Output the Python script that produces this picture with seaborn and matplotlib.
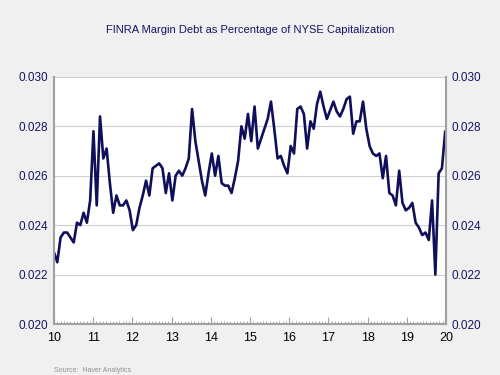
import numpy as np
import pandas as pd
import matplotlib
matplotlib.use("Agg")
import matplotlib.pyplot as plt
import seaborn as sns
from matplotlib.ticker import MultipleLocator

sns.set_style("white")
plt.rcParams['font.family'] = ['Liberation Sans', 'DejaVu Sans']

title = "FINRA Margin Debt as Percentage of NYSE Capitalization"
source = "Source:  Haver Analytics"

v2010 = [0.0229, 0.0225, 0.0235, 0.0237, 0.0237, 0.0235, 0.0233, 0.0241, 0.0240, 0.0245, 0.0241, 0.0250]
v2011 = [0.0278, 0.0248, 0.0284, 0.0267, 0.0271, 0.0257, 0.0245, 0.0252, 0.0248, 0.0248, 0.0250, 0.0246]
v2012 = [0.0238, 0.0240, 0.0247, 0.0252, 0.0258, 0.0252, 0.0263, 0.0264, 0.0265, 0.0263, 0.0253, 0.0261]
v2013 = [0.0250, 0.0260, 0.0262, 0.0260, 0.0263, 0.0267, 0.0287, 0.0274, 0.0266, 0.0258, 0.0252, 0.0261]
v2014 = [0.0269, 0.0260, 0.0268, 0.0257, 0.0256, 0.0256, 0.0253, 0.0259, 0.0266, 0.0280, 0.0275, 0.0285]
v2015 = [0.0274, 0.0288, 0.0271, 0.0275, 0.0279, 0.0283, 0.0290, 0.0279, 0.0267, 0.0268, 0.0264, 0.0261]
v2016 = [0.0272, 0.0269, 0.0287, 0.0288, 0.0285, 0.0271, 0.0282, 0.0279, 0.0289, 0.0294, 0.0288, 0.0283]
v2017 = [0.02865, 0.0290, 0.0286, 0.0284, 0.0287, 0.0291, 0.0292, 0.0277, 0.0282, 0.0282, 0.0290, 0.0279]
v2018 = [0.0272, 0.0269, 0.0268, 0.0269, 0.0259, 0.0268, 0.0253, 0.0252, 0.0248, 0.0262, 0.0249, 0.0246]
v2019 = [0.0247, 0.0249, 0.0241, 0.0239, 0.0236, 0.0237, 0.0234, 0.0250, 0.0220, 0.0261, 0.0263, 0.0278]

values = v2010 + v2011 + v2012 + v2013 + v2014 + v2015 + v2016 + v2017 + v2018 + v2019
dates = np.linspace(2010.0, 2019.98, len(values))
year_ticks = [2010, 2011, 2012, 2013, 2014, 2015, 2016, 2017, 2018, 2019, 2020]
year_labels = ["10", "11", "12", "13", "14", "15", "16", "17", "18", "19", "20"]
y_ticks = [0.020, 0.022, 0.024, 0.026, 0.028, 0.030]

df = pd.DataFrame({"date": dates, "value": values})

navy = "#141466"
bg = "#F0F0F0"

fig = plt.figure(figsize=(5, 3.75), dpi=100, facecolor=bg)
ax = fig.add_axes([0.108, 0.136, 0.784, 0.659])
ax.set_facecolor("white")

sns.lineplot(data=df, x="date", y="value", ax=ax, color="#0F0F5A", linewidth=1.9)

ax.set_xlim(2010, 2020)
ax.set_ylim(0.020, 0.030)
ax.set_yticks(y_ticks)
ax.set_yticklabels([f"{t:.3f}" for t in y_ticks])
ax.yaxis.grid(True, color="#D0D0D0", linewidth=0.8)
ax.xaxis.grid(False)
ax.set_xlabel("")
ax.set_ylabel("")

ax.set_xticks(year_ticks)
ax.set_xticklabels(year_labels)
ax.xaxis.set_minor_locator(MultipleLocator(1/12))
ax.tick_params(axis="x", which="major", direction="in", length=5, color="#A0A0A0",
               labelsize=9, labelcolor="black", pad=6, bottom=True)
ax.tick_params(axis="x", which="minor", direction="in", length=2.5, color="#A0A0A0", bottom=True)
ax.tick_params(axis="y", which="both", length=0, labelsize=8.5, labelcolor=navy, pad=4,
               left=True, right=True, labelleft=True, labelright=True)

for side in ["left", "right", "bottom"]:
    ax.spines[side].set_visible(True)
    ax.spines[side].set_color("#A0A0A0")
    ax.spines[side].set_linewidth(1.5)
ax.spines["top"].set_visible(False)

fig.text(0.5, 0.92, title, ha="center", va="center", fontsize=8, color=navy)
fig.text(0.108, 0.004, source, ha="left", va="bottom", fontsize=5, color="#909090")

fig.savefig("out.png", dpi=100, facecolor=bg)
